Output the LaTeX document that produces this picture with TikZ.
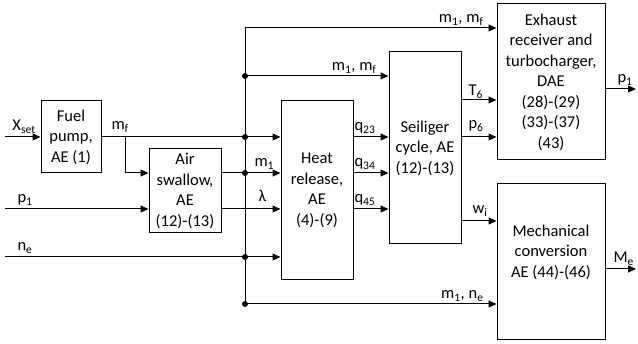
\documentclass[tikz,border=0pt]{standalone}
\usepackage{fontspec}
\setmainfont{Carlito}
\usetikzlibrary{arrows.meta}

\tikzset{
  block/.style={draw,line width=1pt,align=center,inner sep=0pt},
  sig/.style={inner sep=0pt,anchor=base west},
  sigr/.style={inner sep=0pt,anchor=base east},
  dot/.style={circle,fill,inner sep=0pt,minimum size=6pt}
}
\newcommand{\sub}[1]{\textsubscript{#1}}

\begin{document}
\begin{tikzpicture}[x=1pt,y=-1pt,line width=1pt,>={Triangle[length=8pt,width=7pt]},
  font=\fontsize{16.5}{20.5}\selectfont]
  \useasboundingbox (0,0) rectangle (638,344);

  % blocks
  \node[block,minimum width=60,minimum height=72] (pump) at (71,137) {Fuel\\pump,\\AE (1)};
  \node[block,minimum width=72,minimum height=84] (air) at (185,191) {Air\\swallow,\\AE\\(12)-(13)};
  \node[block,minimum width=72,minimum height=179] (heat) at (317,190.5) {Heat\\release,\\AE\\(4)-(9)};
  \node[block,minimum width=72,minimum height=192] (seil) at (425,148) {Seiliger\\cycle, AE\\(12)-(13)};
  \node[block,minimum width=108,minimum height=156] (exh) at (551,82)
    {Exhaust\\receiver and\\turbocharger,\\DAE\\(28)-(29)\\(33)-(37)\\(43)};
  \node[block,minimum width=108,minimum height=156] (mech) at (551,262) {};
  \node[align=center,inner sep=0pt] (mechtxt) at (551,252) {Mechanical\\conversion\\AE (44)-(46)};

  % rows
  \coordinate (rA) at (0,28);
  \coordinate (rB) at (0,76);
  \coordinate (rT) at (0,100);
  \coordinate (rC) at (0,137);
  \coordinate (rD) at (0,173);
  \coordinate (rE) at (0,209);
  \coordinate (rW) at (0,221);
  \coordinate (rF) at (0,257);
  \coordinate (rM) at (0,269);
  \coordinate (rG) at (0,304);
  \coordinate (rP) at (0,89);

  % inputs
  \coordinate (xin) at (5,137);
  \coordinate (pin) at (5,209);
  \coordinate (nin) at (5,257);
  \coordinate (split) at (125,137);
  \coordinate (busTop) at (245,28);
  \coordinate (busBot) at (245,304);

  \draw[->] (xin) -- (pump.west);
  \draw[->] (pump.east) -- (pump.east -| heat.west);
  \draw[->] (split) |- (air.west |- rD);
  \draw[->] (pin) -- (air.west |- rE);
  \draw[->] (nin) -- (heat.west |- rF);
  \draw[->] (air.east |- rD) -- (heat.west |- rD);
  \draw[->] (air.east |- rE) -- (heat.west |- rE);

  % bus
  \draw (busTop) -- (busBot);
  \draw[->] (busTop) -- (exh.west |- rA);
  \draw[->] (busTop |- rB) -- (seil.west |- rB);
  \draw[->] (busBot) -- (mech.west |- rG);
  \foreach \r in {rB,rC,rD,rF,rG}
    \node[dot] (d\r) at (busTop |- \r) {};

  % heat release to seiliger
  \foreach \r in {rC,rD,rE}
    \draw[->] (heat.east |- \r) -- (seil.west |- \r);

  % seiliger outputs
  \draw[->] (seil.east |- rT) -- (exh.west |- rT);
  \draw[->] (seil.east |- rC) -- (exh.west |- rC);
  \draw[->] (seil.east |- rW) -- (mech.west |- rW);

  % outputs
  \coordinate (pout) at (636,89);
  \coordinate (mout) at (636,269);
  \draw[->] (exh.east |- rP) -- (pout);
  \draw[->] (mech.east |- rM) -- (mout);

  % signal names
  \node[sig] (lxs) at (12,131) {X\sub{set}};
  \node[sig] (lmf) at (111,130) {m\sub{f}};
  \node[sig] (lm1) at (254,167) {m\sub{1}};
  \node[sig] (llam) at (258,202) {λ};
  \node[sig] (lp1) at (17,203) {p\sub{1}};
  \node[sig] (lne) at (17,251) {n\sub{e}};
  \node[sigr] (ltop) at (484,23) {m\sub{1}, m\sub{f}};
  \node[sigr] (lmid) at (377,71) {m\sub{1}, m\sub{f}};
  \node[sigr] (lbot) at (484,299) {m\sub{1}, n\sub{e}};
  \node[sig] (lq23) at (354,131) {q\sub{23}};
  \node[sig] (lq34) at (354,167) {q\sub{34}};
  \node[sig] (lq45) at (354,203) {q\sub{45}};
  \node[sig] (lt6) at (468,96) {T\sub{6}};
  \node[sig] (lp6) at (468,129) {p\sub{6}};
  \node[sig] (lwi) at (472,214) {w\sub{i}};
  \node[sig] (lpo) at (617,83) {p\sub{1}};
  \node[sig] (lme) at (613,263) {M\sub{e}};
\end{tikzpicture}
\end{document}
